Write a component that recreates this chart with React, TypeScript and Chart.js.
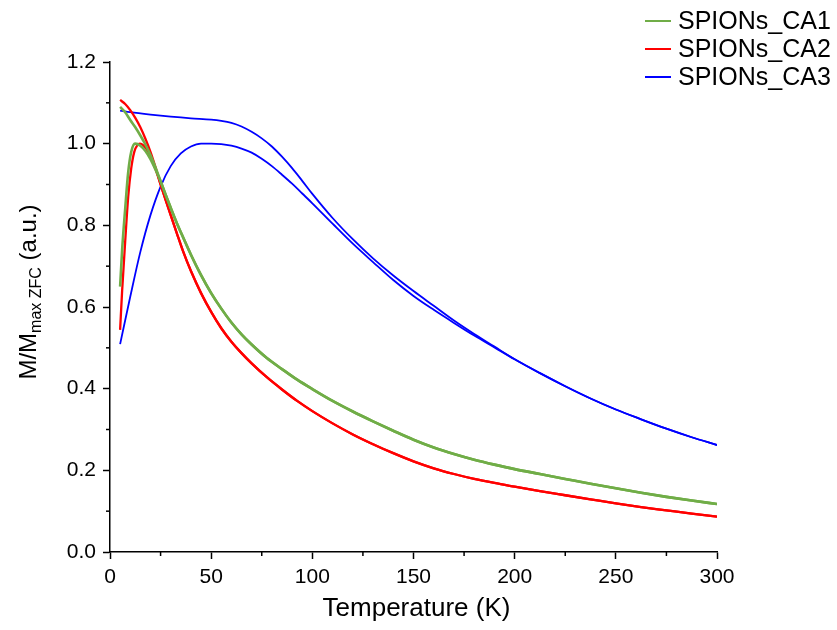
import React, { useEffect, useRef } from "react";
import { Chart, registerables } from "chart.js";
Chart.register(...registerables);

// ---------- data ----------
const SERIES_NAMES = ["SPIONs_CA1", "SPIONs_CA2", "SPIONs_CA3"];
const SERIES_COLORS = ["#70AD47", "#FF0000", "#0000FF"];

// CA1 (field cooled, whole range)
const CA1_FC_T = [5, 7.5, 10, 12.5, 15, 17.5, 20, 22.5, 25, 27.5, 30, 33, 36, 40, 45, 50, 55, 60, 65, 70, 77.5, 85, 92.5, 100, 110, 120, 130, 140, 150, 160, 170, 180, 190, 200, 212.5, 225, 237.5, 250, 262.5, 275, 287.5, 300];
const CA1_FC_M = [1.09, 1.077, 1.058, 1.04, 1.02, 0.998, 0.972, 0.942, 0.908, 0.875, 0.843, 0.806, 0.772, 0.728, 0.678, 0.634, 0.596, 0.562, 0.533, 0.508, 0.475, 0.448, 0.422, 0.399, 0.37, 0.344, 0.32, 0.297, 0.275, 0.256, 0.24, 0.226, 0.214, 0.203, 0.191, 0.179, 0.167, 0.156, 0.145, 0.135, 0.126, 0.1175];
// CA1 (zero-field cooled, until it joins FC)
const CA1_ZFC_T = [5, 6, 7.5, 9, 10.5, 12.4, 15, 17.5, 20, 22.5];
const CA1_ZFC_M = [0.65, 0.74, 0.84, 0.93, 0.98, 1.0, 0.995, 0.982, 0.962, 0.936];

// CA2
const CA2_FC_T = [5, 7.5, 10, 12.5, 15, 17.5, 20, 22.5, 25, 27.5, 30, 33, 36, 40, 45, 50, 55, 60, 65, 70, 77.5, 85, 92.5, 100, 110, 120, 130, 140, 150, 160, 170, 180, 190, 200, 212.5, 225, 237.5, 250, 262.5, 275, 287.5, 300];
const CA2_FC_M = [1.107, 1.097, 1.082, 1.063, 1.04, 1.012, 0.98, 0.942, 0.9, 0.862, 0.825, 0.781, 0.738, 0.688, 0.634, 0.588, 0.548, 0.515, 0.487, 0.462, 0.428, 0.398, 0.37, 0.345, 0.315, 0.288, 0.264, 0.242, 0.222, 0.205, 0.191, 0.179, 0.169, 0.16, 0.149, 0.139, 0.129, 0.119, 0.11, 0.102, 0.094, 0.0865];
const CA2_ZFC_T = [5, 6, 7.5, 9, 10.5, 12, 13.5, 14.8, 16.5, 18, 20, 22.5];
const CA2_ZFC_M = [0.544, 0.64, 0.76, 0.87, 0.94, 0.98, 0.996, 1.0, 0.996, 0.987, 0.968, 0.938];

// CA3
const CA3_FC_T = [5, 10, 20, 30, 40, 50, 55, 60, 65, 70, 75, 80, 85, 90, 95, 100, 110, 120, 130, 140, 150, 160, 170, 180, 190, 200, 212.5, 225, 237.5, 250, 262.5, 275, 287.5, 300];
const CA3_FC_M = [1.081, 1.077, 1.071, 1.066, 1.062, 1.059, 1.056, 1.051, 1.042, 1.029, 1.013, 0.993, 0.968, 0.94, 0.909, 0.877, 0.818, 0.766, 0.719, 0.677, 0.639, 0.603, 0.567, 0.534, 0.503, 0.472, 0.438, 0.406, 0.376, 0.349, 0.325, 0.302, 0.281, 0.262];
const CA3_ZFC_T = [5, 10, 15, 20, 25, 30, 35, 40, 45, 50, 55, 60, 65, 70, 75, 80, 85, 90, 95, 100, 110, 120, 130, 140, 150, 160, 170, 180, 190];
const CA3_ZFC_M = [0.509, 0.625, 0.735, 0.825, 0.895, 0.945, 0.976, 0.993, 1.0, 1.0, 0.999, 0.995, 0.988, 0.978, 0.963, 0.945, 0.924, 0.902, 0.878, 0.854, 0.804, 0.755, 0.71, 0.666, 0.627, 0.593, 0.561, 0.53, 0.501];

const X_MIN = 0, X_MAX = 300, X_STEP = 50, X_MINOR = 25;
const Y_MIN = 0, Y_MAX = 1.2, Y_STEP = 0.2, Y_MINOR = 0.1;
const X_TITLE = "Temperature (K)";
const Y_TITLE_MAIN = "M/M";
const Y_TITLE_SUB = "max ZFC";
const Y_TITLE_END = " (a.u.)";

const FONT = "'Liberation Sans', Arial, sans-serif";

function pts(t: number[], m: number[]) {
  return t.map((x, i) => ({ x, y: m[i] }));
}
function zfcWithTail(zt: number[], zm: number[], ft: number[], fm: number[]) {
  const last = zt[zt.length - 1];
  const out = pts(zt, zm);
  ft.forEach((x, i) => { if (x > last) out.push({ x, y: fm[i] }); });
  return out;
}

export default function App() {
  const ref = useRef<HTMLCanvasElement | null>(null);
  useEffect(() => {
    const canvas = ref.current!;
    const widths = [2.6, 2.3, 1.8];
    const curves = [
      [pts(CA1_FC_T, CA1_FC_M), zfcWithTail(CA1_ZFC_T, CA1_ZFC_M, CA1_FC_T, CA1_FC_M)],
      [pts(CA2_FC_T, CA2_FC_M), zfcWithTail(CA2_ZFC_T, CA2_ZFC_M, CA2_FC_T, CA2_FC_M)],
      [pts(CA3_FC_T, CA3_FC_M), zfcWithTail(CA3_ZFC_T, CA3_ZFC_M, CA3_FC_T, CA3_FC_M)],
    ];
    const datasets: any[] = [];
    curves.forEach((pair, i) => {
      pair.forEach((data, j) => {
        datasets.push({
          label: SERIES_NAMES[i] + (j === 0 ? " FC" : " ZFC"),
          data,
          borderColor: SERIES_COLORS[i],
          borderWidth: widths[i],
          pointRadius: 0,
          fill: false,
          cubicInterpolationMode: "monotone",
        });
      });
    });

    const deco = {
      id: "deco",
      afterDraw(chart: any) {
        const ctx = chart.ctx;
        const xs = chart.scales.x, ys = chart.scales.y;
        const ca = chart.chartArea;
        ctx.save();
        ctx.strokeStyle = "#000";
        ctx.lineWidth = 1.5;
        // minor ticks
        for (let v = X_MIN + X_MINOR; v < X_MAX; v += X_STEP) {
          const px = xs.getPixelForValue(v);
          ctx.beginPath(); ctx.moveTo(px, ca.bottom); ctx.lineTo(px, ca.bottom + 4); ctx.stroke();
        }
        for (let v = Y_MIN + Y_MINOR; v < Y_MAX; v += Y_STEP) {
          const py = ys.getPixelForValue(v);
          ctx.beginPath(); ctx.moveTo(ca.left, py); ctx.lineTo(ca.left - 4, py); ctx.stroke();
        }
        // x title
        ctx.fillStyle = "#000";
        ctx.font = `26px ${FONT}`;
        ctx.textAlign = "center";
        ctx.textBaseline = "alphabetic";
        ctx.fillText(X_TITLE, (ca.left + ca.right) / 2 + 3, 616);
        // y title
        ctx.save();
        ctx.translate(36, 292);
        ctx.rotate(-Math.PI / 2);
        const mainF = `24px ${FONT}`, subF = `16px ${FONT}`;
        ctx.font = mainF; const w1 = ctx.measureText(Y_TITLE_MAIN).width;
        ctx.font = subF; const w2 = ctx.measureText(Y_TITLE_SUB).width;
        ctx.font = mainF; const w3 = ctx.measureText(Y_TITLE_END).width;
        let x0 = -(w1 + w2 + w3) / 2;
        ctx.textAlign = "left";
        ctx.font = mainF; ctx.fillText(Y_TITLE_MAIN, x0, 0); x0 += w1;
        ctx.font = subF; ctx.fillText(Y_TITLE_SUB, x0, 5); x0 += w2;
        ctx.font = mainF; ctx.fillText(Y_TITLE_END, x0, 0);
        ctx.restore();
        // legend
        ctx.font = `25px ${FONT}`;
        ctx.textAlign = "left";
        ctx.textBaseline = "middle";
        SERIES_NAMES.forEach((name, i) => {
          const y = 21 + i * 28;
          ctx.strokeStyle = SERIES_COLORS[i];
          ctx.lineWidth = 2;
          ctx.beginPath(); ctx.moveTo(645, y); ctx.lineTo(671, y); ctx.stroke();
          ctx.fillStyle = "#000";
          ctx.fillText(name, 678, y + 1);
        });
        ctx.restore();
      },
    };

    const chart = new Chart(canvas, {
      type: "line",
      data: { datasets },
      options: {
        animation: false,
        responsive: false,
        devicePixelRatio: 1,
        parsing: false as any,
        layout: { padding: { left: 0, top: 62, right: 120, bottom: 0 } },
        plugins: { legend: { display: false }, tooltip: { enabled: false } },
        scales: {
          x: {
            type: "linear",
            min: X_MIN, max: X_MAX,
            afterFit: (s: any) => { s.height = 78; },
            ticks: { stepSize: X_STEP, color: "#000", font: { family: FONT, size: 21 }, padding: 6, maxRotation: 0 },
            grid: { drawOnChartArea: false, drawTicks: true, tickLength: 7, tickColor: "#000", tickWidth: 1.5 },
            border: { display: true, color: "#000", width: 1.5 },
          },
          y: {
            type: "linear",
            min: Y_MIN, max: Y_MAX,
            afterFit: (s: any) => { s.width = 110; },
            ticks: { stepSize: Y_STEP, color: "#000", font: { family: FONT, size: 21 }, padding: 7, callback: (v: any) => Number(v).toFixed(1) },
            grid: { drawOnChartArea: false, drawTicks: true, tickLength: 7, tickColor: "#000", tickWidth: 1.5 },
            border: { display: true, color: "#000", width: 1.5 },
          },
        },
      },
      plugins: [deco],
    } as any);
    return () => chart.destroy();
  }, []);
  return (
    <div style={{ position: "absolute", left: 0, top: 0, width: 837, height: 630, background: "#fff" }}>
      <canvas ref={ref} width={837} height={630} style={{ width: 837, height: 630, display: "block" }} />
    </div>
  );
}
